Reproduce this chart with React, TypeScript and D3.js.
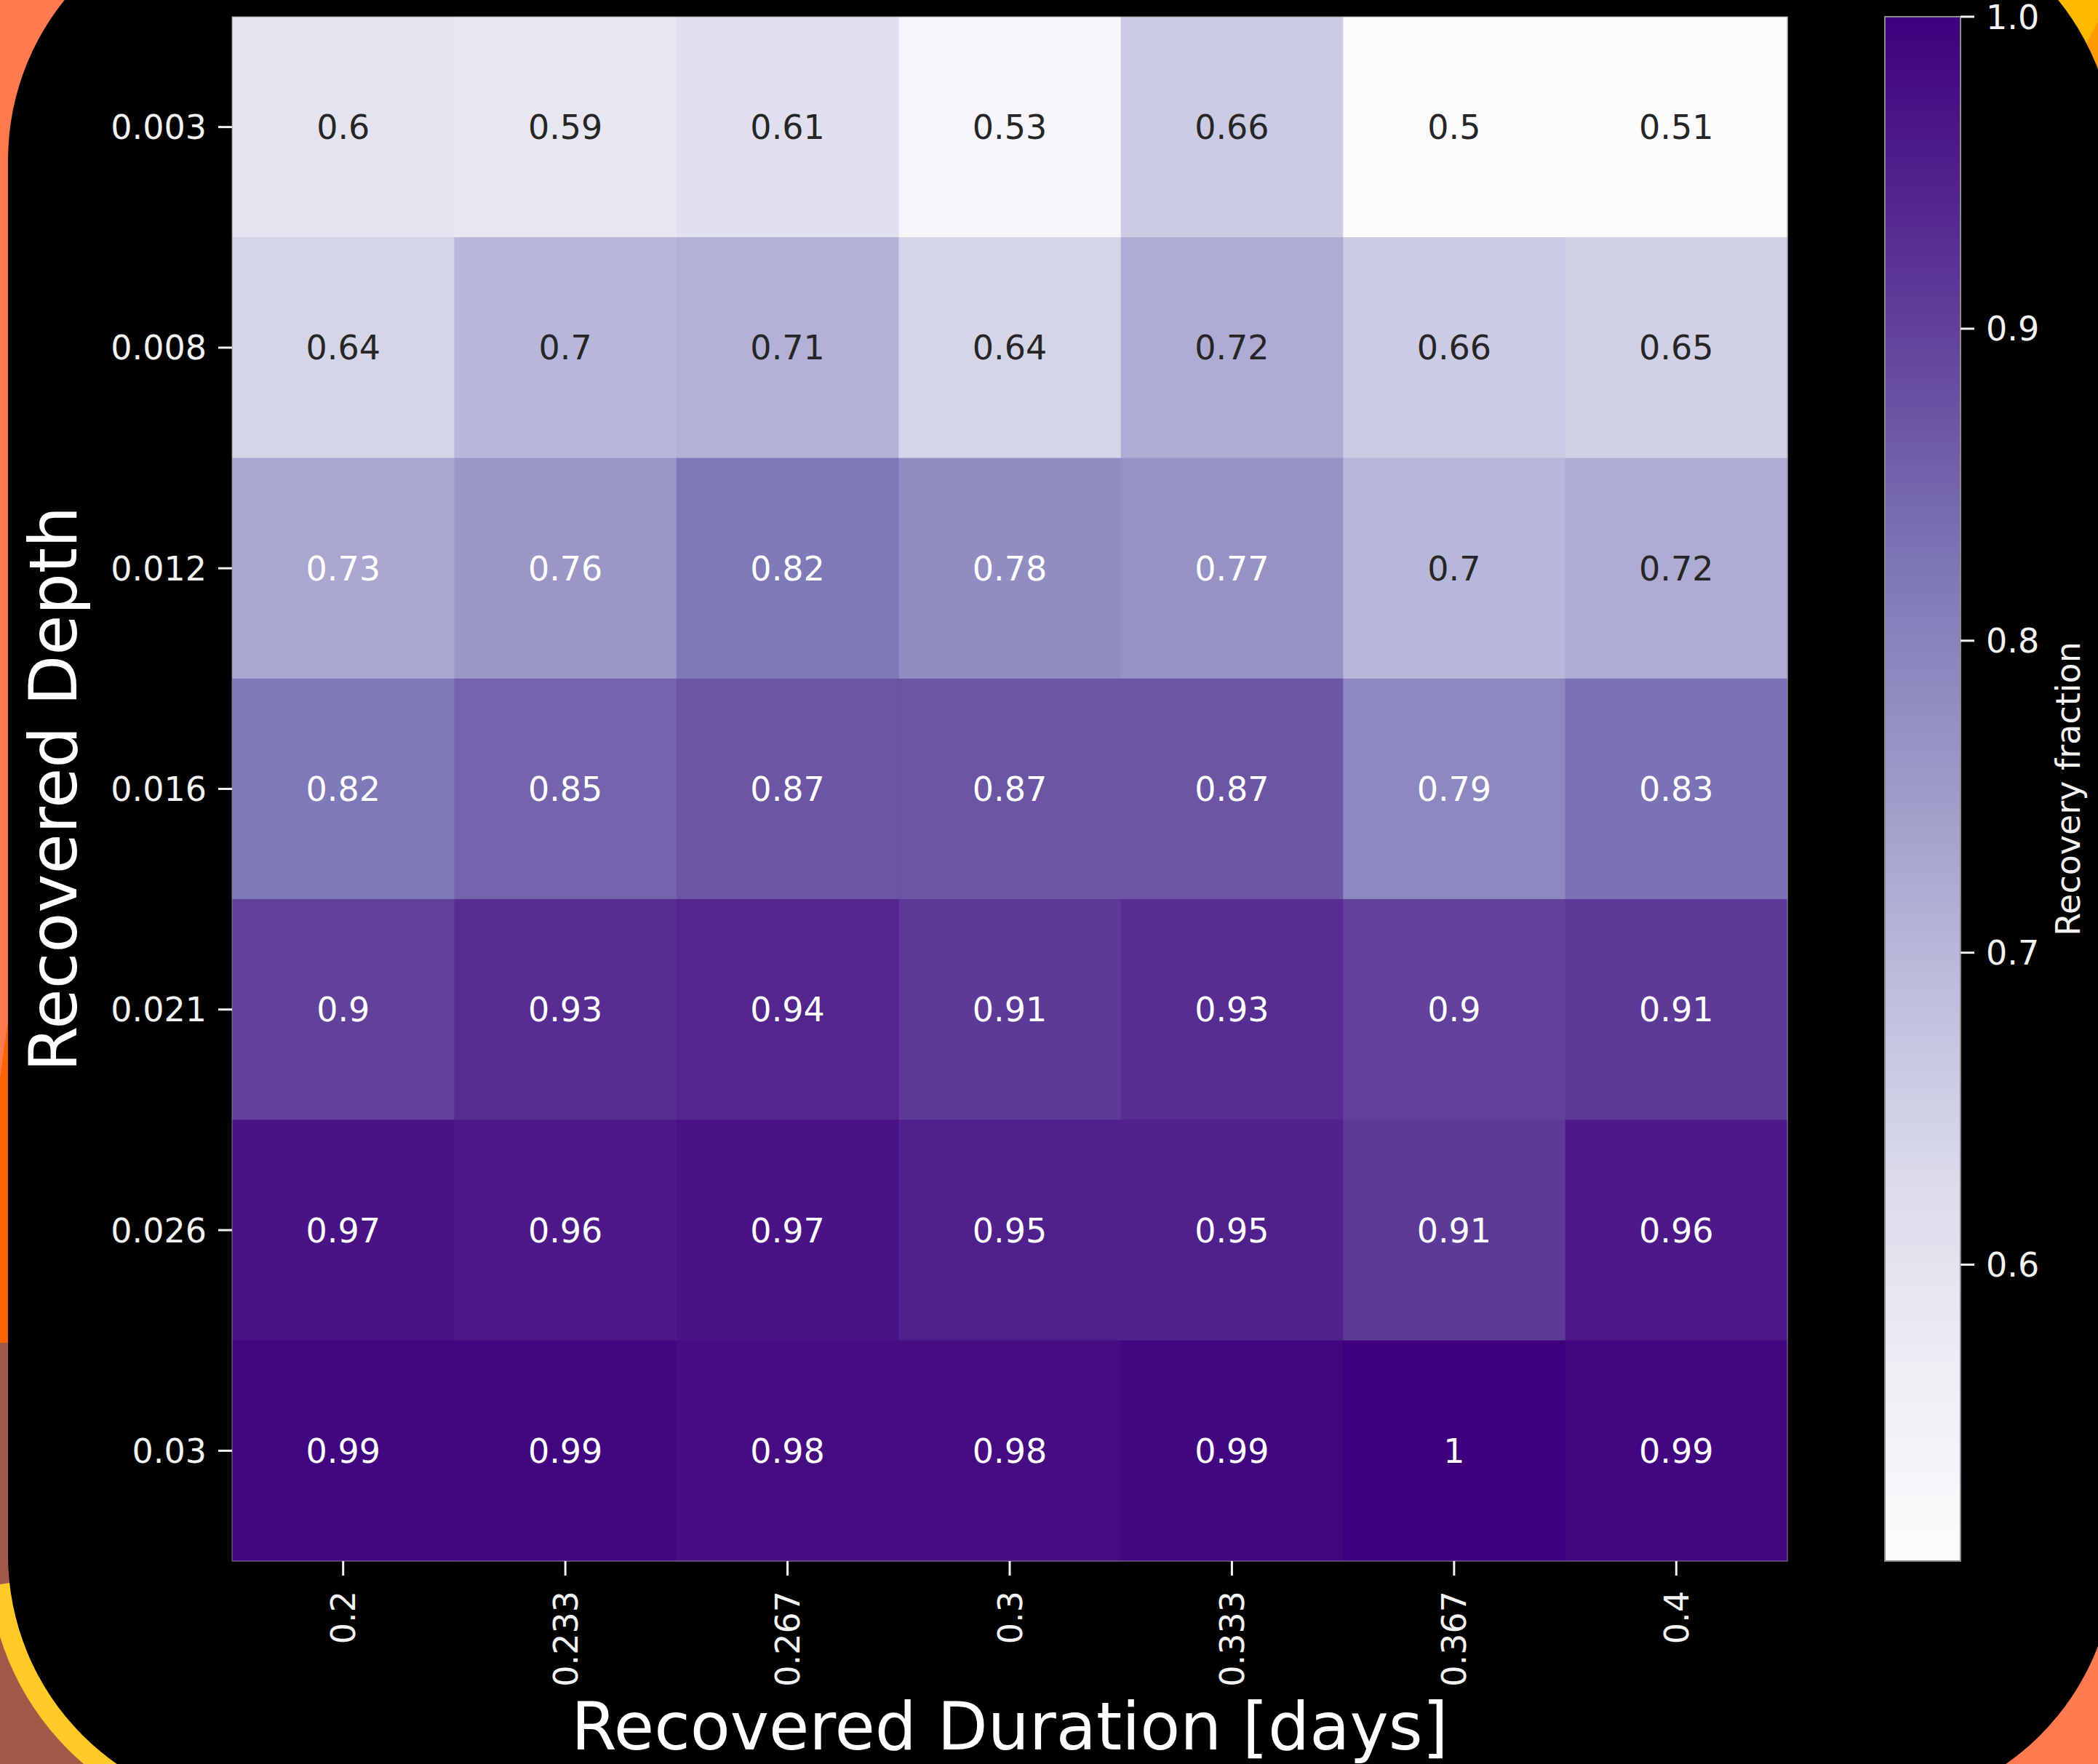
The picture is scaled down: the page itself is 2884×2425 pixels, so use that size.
import React from "react";
import * as d3 from "d3";

// Injection-recovery grid: rows = recovered depth, columns = recovered duration [days]
const durations = ["0.2", "0.233", "0.267", "0.3", "0.333", "0.367", "0.4"];
const depths = ["0.003", "0.008", "0.012", "0.016", "0.021", "0.026", "0.03"];

const row003 = [0.6, 0.59, 0.61, 0.53, 0.66, 0.5, 0.51];
const row008 = [0.64, 0.7, 0.71, 0.64, 0.72, 0.66, 0.65];
const row012 = [0.73, 0.76, 0.82, 0.78, 0.77, 0.7, 0.72];
const row016 = [0.82, 0.85, 0.87, 0.87, 0.87, 0.79, 0.83];
const row021 = [0.9, 0.93, 0.94, 0.91, 0.93, 0.9, 0.91];
const row026 = [0.97, 0.96, 0.97, 0.95, 0.95, 0.91, 0.96];
const row030 = [0.99, 0.99, 0.98, 0.98, 0.99, 1, 0.99];
const recovery = [row003, row008, row012, row016, row021, row026, row030];

const colorbarTicks = [0.6, 0.7, 0.8, 0.9, 1.0];
const vmin = 0.505;
const vmax = 1.0;

const W = 2884;
const H = 2425;
const FONT = "'DejaVu Sans', Verdana, sans-serif";

// plot geometry
const plot = { left: 319, right: 2457, top: 23, bottom: 2146 };
const cbar = { left: 2591, right: 2695 };

// matplotlib "Purples": linear segments between the 9 ColorBrewer colours
const purples = d3.schemePurples[9];
const color = d3
  .scaleLinear<string>()
  .domain(purples.map((_, i) => vmin + ((vmax - vmin) * i) / (purples.length - 1)))
  .range(purples)
  .interpolate(d3.interpolateRgb)
  .clamp(true);

function luminance(c: string) {
  const rgb = d3.rgb(c);
  const lin = (v: number) => {
    const s = v / 255;
    return s <= 0.03928 ? s / 12.92 : Math.pow((s + 0.055) / 1.055, 2.4);
  };
  return 0.2126 * lin(rgb.r) + 0.7152 * lin(rgb.g) + 0.0722 * lin(rgb.b);
}

const fmt = d3.format(".2~g");

export default function App() {
  const x = d3.scaleBand<string>().domain(durations).range([plot.left, plot.right]).padding(0);
  const y = d3.scaleBand<string>().domain(depths).range([plot.top, plot.bottom]).padding(0);
  const cy = d3.scaleLinear().domain([vmin, vmax]).range([plot.bottom, plot.top]);

  const gradStops = d3.range(0, 1.0001, 0.02).map((t) => ({
    offset: t,
    c: color(vmin + (vmax - vmin) * t),
  }));

  const tickFont = 46;
  const labelFont = 90;
  const tickColor = "#f2f2f2";

  return (
    <svg
      width={W}
      height={H}
      viewBox={`0 0 ${W} ${H}`}
      style={{ position: "absolute", left: 0, top: 0, display: "block" }}
      fontFamily={FONT}
    >
      <defs>
        <linearGradient id="cbarGrad" x1="0" y1="1" x2="0" y2="0">
          {gradStops.map((s, i) => (
            <stop key={i} offset={s.offset} stopColor={s.c} />
          ))}
        </linearGradient>
        <clipPath id="bandClip">
          <polygon points="0,2178 40,2172 600,2172 600,2425 0,2425" />
        </clipPath>
      </defs>

      {/* decorative backdrop */}
      <rect x={0} y={0} width={W} height={H} fill="#ff7a4f" />
      <path d="M0,1482 L12,1396 L40,1396 L40,1852 L0,1846 Z" fill="#ff6300" />
      <rect x={0} y={1846} width={420} height={H - 1846} fill="#a15a48" />
      <rect x={-17} y={-158} width={2952} height={2674} rx={378} ry={378} fill="#ffca28" clipPath="url(#bandClip)" />
      <rect x={2700} y={0} width={184} height={220} fill="#ffb900" />
      <path d="M2840,110 L2884,30 L2884,240 L2840,240 Z" fill="#ff9a00" />

      {/* dark card */}
      <rect x={11} y={-130} width={2896} height={2618} rx={350} ry={350} fill="#000000" />

      {/* heatmap cells */}
      {recovery.map((row, ri) =>
        row.map((v, ci) => {
          const fill = color(v);
          const txt = luminance(fill) > 0.408 ? "#262626" : "#ffffff";
          const cx = (x(durations[ci]) as number) + x.bandwidth() / 2;
          const cyy = (y(depths[ri]) as number) + y.bandwidth() / 2;
          return (
            <g key={`${ri}-${ci}`}>
              <rect
                x={x(durations[ci])}
                y={y(depths[ri])}
                width={x.bandwidth() + 0.6}
                height={y.bandwidth() + 0.6}
                fill={fill}
              />
              <text
                x={cx}
                y={cyy}
                dy="0.36em"
                textAnchor="middle"
                fontSize={tickFont}
                fill={txt}
              >
                {fmt(v)}
              </text>
            </g>
          );
        })
      )}
      <rect
        x={plot.left}
        y={plot.top}
        width={plot.right - plot.left}
        height={plot.bottom - plot.top}
        fill="none"
        stroke="#8a8a8a"
        strokeOpacity={0.6}
        strokeWidth={1.5}
      />

      {/* y axis */}
      {depths.map((d) => {
        const yy = (y(d) as number) + y.bandwidth() / 2;
        return (
          <g key={d}>
            <line x1={plot.left - 19} x2={plot.left} y1={yy} y2={yy} stroke={tickColor} strokeWidth={3} />
            <text x={plot.left - 35} y={yy} dy="0.36em" textAnchor="end" fontSize={tickFont} fill={tickColor}>
              {d}
            </text>
          </g>
        );
      })}

      {/* x axis */}
      {durations.map((d) => {
        const xx = (x(d) as number) + x.bandwidth() / 2;
        return (
          <g key={d}>
            <line x1={xx} x2={xx} y1={plot.bottom} y2={plot.bottom + 20} stroke={tickColor} strokeWidth={3} />
            <text
              transform={`translate(${xx},${plot.bottom + 41}) rotate(-90)`}
              dy="0.36em"
              textAnchor="end"
              fontSize={tickFont}
              fill={tickColor}
            >
              {d}
            </text>
          </g>
        );
      })}

      {/* axis titles */}
      <text x={(plot.left + plot.right) / 2} y={2405} textAnchor="middle" fontSize={labelFont} fill="#ffffff">
        Recovered Duration [days]
      </text>
      <text
        transform={`translate(105,${(plot.top + plot.bottom) / 2}) rotate(-90)`}
        textAnchor="middle"
        fontSize={labelFont}
        fill="#ffffff"
      >
        Recovered Depth
      </text>

      {/* colorbar */}
      <rect
        x={cbar.left}
        y={plot.top}
        width={cbar.right - cbar.left}
        height={plot.bottom - plot.top}
        fill="url(#cbarGrad)"
        stroke="#8a8a8a"
        strokeWidth={2}
      />
      {colorbarTicks.map((t) => (
        <g key={t}>
          <line x1={cbar.right} x2={cbar.right + 19} y1={cy(t)} y2={cy(t)} stroke={tickColor} strokeWidth={3} />
          <text x={cbar.right + 35} y={cy(t)} dy="0.36em" fontSize={tickFont} fill={tickColor}>
            {d3.format(".1f")(t)}
          </text>
        </g>
      ))}
      <text
        transform={`translate(2859,${(plot.top + plot.bottom) / 2}) rotate(-90)`}
        textAnchor="middle"
        fontSize={tickFont}
        fill={tickColor}
      >
        Recovery fraction
      </text>
    </svg>
  );
}
